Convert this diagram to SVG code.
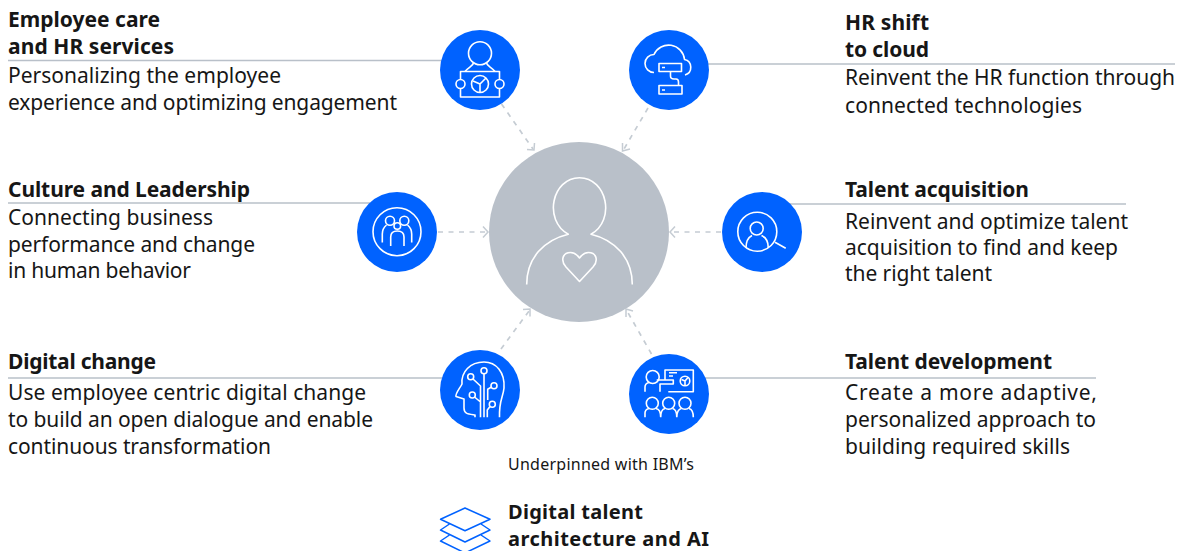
<svg xmlns="http://www.w3.org/2000/svg" width="1178" height="551" viewBox="0 0 1178 551">
<style>
text{font-family:"Noto Sans","Open Sans","Liberation Sans",sans-serif;fill:#161616;font-size:21px}
.b{font-weight:700}
.s{font-size:16px}
text.f{font-size:20px}
.rule{stroke:#b9c0c9;stroke-width:1.6;fill:none}
.dash{stroke:#c5ccd3;stroke-width:1.7;fill:none;stroke-dasharray:5 5.500}
.head{stroke:#c5ccd3;stroke-width:1.5;fill:none}
.disc{fill:#0062ff}
.ic{stroke:#fff;stroke-width:1.6;fill:none;stroke-linejoin:round}
</style>
<g id="connectors">
<line class="rule" x1="8" y1="60.500" x2="445" y2="60.500"/>
<line class="rule" x1="705" y1="64" x2="1175" y2="64"/>
<line class="rule" x1="8" y1="203" x2="370" y2="203"/>
<line class="rule" x1="790" y1="204" x2="1126" y2="204"/>
<line class="rule" x1="8" y1="378" x2="445" y2="378"/>
<line class="rule" x1="705" y1="378" x2="1096" y2="378"/>
<path class="dash" d="M501.500 104L533 149"/><path class="head" d="M534.500 143L534 150L527 149.500"/>
<path class="dash" d="M648 108L624 149"/><path class="head" d="M622.500 143L622.500 151L630 149"/>
<path class="dash" d="M438 232H486"/><path class="head" d="M483 226.500L488 232L483 237.500"/>
<path class="dash" d="M721 232H672"/><path class="head" d="M675 226.500L670 232L675 237.500"/>
<path class="dash" d="M501 349L529 311"/><path class="head" d="M523 309.500L530 309L530 316.500"/>
<path class="dash" d="M651.500 354L627 311"/><path class="head" d="M626 317L626 309L633 311"/>
</g>
<g id="center">
<circle cx="579" cy="232" r="90" fill="#b9c0c9"/>
<path class="ic" d="M526.700 284.500C526.700 258 544 240 568.300 234.200C543 220 552 178 579.500 177.700C607 178 616 220 591 234.200C615 240 632.300 258 632.300 284.500"/>
<path class="ic" d="M579.500 281.500L566 267C560 260 563 252.500 570.500 252.500C574 252.500 577 254.500 579.500 258C582 254.500 585 252.500 588.500 252.500C596 252.500 599 260 593 267Z"/>
</g>
<g id="employee-care">
<circle class="disc" cx="480" cy="70" r="40"/>
<g class="ic"><circle cx="480" cy="53.300" r="11.500"/><path d="M465 71.500C469 67 473 66 473.500 63M495 71.500C491 67 487 66 486.500 63"/><rect x="460.500" y="71.500" width="39" height="25.500"/><circle cx="460.500" cy="84" r="4.500" fill="#0062ff"/><circle cx="499.500" cy="84" r="4.500" fill="#0062ff"/><circle cx="480" cy="84" r="8.500"/><path d="M480 84L473 81M480 84L486 78M480 84V92"/></g>
<text class="b" x="8" y="27" textLength="152">Employee care</text>
<text class="b" x="8" y="54" textLength="166">and HR services</text>
<text x="8" y="83" textLength="273">Personalizing the employee</text>
<text x="8" y="110" textLength="389">experience and optimizing engagement</text>
</g>
<g id="hr-cloud">
<circle class="disc" cx="669" cy="70" r="40"/>
<g class="ic"><path d="M654 72.500A9 9 0 0 1 654 54.500A16 16 0 0 1 684.500 59.500A8 8 0 0 1 685 75"/><rect x="659" y="63.500" width="22.500" height="8"/><rect x="659" y="85.500" width="23" height="8.500"/><path d="M662 67.500H665M662 90H665M670.500 72V76C670.500 78 672 79 674 79H676C678 79 678.500 80 678.500 82V85.500"/></g>
<text class="b" x="845" y="30" textLength="84">HR shift</text>
<text class="b" x="845" y="57" textLength="84">to cloud</text>
<text x="845" y="85" textLength="330">Reinvent the HR function through</text>
<text x="845" y="113" textLength="237">connected technologies</text>
</g>
<g id="culture">
<circle class="disc" cx="397" cy="232" r="40"/>
<g class="ic"><circle cx="397" cy="231.700" r="24"/><circle cx="390" cy="220.700" r="4.500"/><circle cx="404.300" cy="220.700" r="4.500"/><circle cx="397.300" cy="226" r="3.300"/><path d="M382.300 242.500V234C382.300 229 384 227 386.500 225M411.700 242.500V234C411.700 229 410 227 407.500 225M390.700 246V237C390.700 233 393 231 397.300 231C401.500 231 404 233 404 237V246"/></g>
<text class="b" x="8" y="197" textLength="242">Culture and Leadership</text>
<text x="8" y="225" textLength="205">Connecting business</text>
<text x="8" y="252" textLength="247">performance and change</text>
<text x="8" y="278" textLength="183">in human behavior</text>
</g>
<g id="talent-acquisition">
<circle class="disc" cx="762" cy="232" r="40"/>
<g class="ic"><circle cx="757.300" cy="231.700" r="19.500"/><circle cx="756.700" cy="228.500" r="6.500"/><path d="M746 248C746 241 749 237 752 235.500M768.300 248C768.300 241 765 237 761.500 235.500M775 242.300L785.700 248.300"/></g>
<text class="b" x="845" y="197" textLength="184">Talent acquisition</text>
<text x="845" y="229" textLength="283">Reinvent and optimize talent</text>
<text x="845" y="255" textLength="273">acquisition to find and keep</text>
<text x="845" y="281" textLength="147">the right talent</text>
</g>
<g id="digital-change">
<circle class="disc" cx="480" cy="390" r="40"/>
<g class="ic"><path d="M475 417.300V415C468 414 464 414 464 408V399L456 396.500C455 394 460 388 462 384C461 372 470 362 484 362C496 362 505 372 504 388C503 398 499 400 499.500 417.300"/><circle cx="470.700" cy="376.700" r="3"/><circle cx="484" cy="370.700" r="3"/><circle cx="494" cy="385.700" r="3"/><circle cx="472.300" cy="395" r="3"/><circle cx="492.300" cy="404.300" r="3"/><path d="M484 373.700V417.300M473 379L480.500 386V417.300M474.500 397L480.500 402M491.500 387L487.700 389.300V400M490 406.500L487.300 410V417.300"/></g>
<text class="b" x="8" y="369" textLength="148">Digital change</text>
<text x="8" y="400" textLength="358">Use employee centric digital change</text>
<text x="8" y="427" textLength="365">to build an open dialogue and enable</text>
<text x="8" y="454" textLength="263">continuous transformation</text>
</g>
<g id="talent-development">
<circle class="disc" cx="669" cy="394" r="40"/>
<g class="ic"><circle cx="652.700" cy="377" r="6.500"/><path d="M645 391.700V387C645 384 647 383 649 382.500M656.700 380H673.300V384H660V391.700M665 380V370H693.300V391.700H668.300M669 372.700H677M669 376H673"/><circle cx="685" cy="381" r="4.800"/><path d="M685 381L681.500 379.500M685 381L688 377.500M685 381V385.500"/><circle cx="652.300" cy="403.300" r="6"/><circle cx="668.700" cy="403.300" r="6"/><circle cx="685" cy="403.300" r="6"/><path d="M645 417.300V413C645 410 647 409 649 408.500M656 408.500C659 409 660.700 412 660.700 417.300M665 408.500C662.500 409 660.700 412 660.700 417.300M672.500 408.500C675 409 676.800 412 676.800 417.300M681.500 408.500C679 409 676.800 412 676.800 417.300M689 408.500C691 409 693.300 410 693.300 417.300"/></g>
<text class="b" x="845" y="369" textLength="207">Talent development</text>
<text x="845" y="400" textLength="252">Create a more adaptive,</text>
<text x="845" y="427" textLength="251">personalized approach to</text>
<text x="845" y="454" textLength="225">building required skills</text>
</g>
<g id="foundation">
<text class="s" x="508" y="470" textLength="186">Underpinned with IBM’s</text>
<g fill="none" stroke="#0062ff" stroke-width="1.500" stroke-linejoin="round"><path d="M465 508L490 519.200L465 530.700L440.500 519.200Z"/><path d="M449.500 524L440.500 530L465 542L490 530L481 524"/><path d="M449.500 535L440.500 541L465 553L490 541L481 535"/></g>
<text class="b f" x="508" y="519" textLength="135">Digital talent</text>
<text class="b f" x="508" y="546" textLength="201">architecture and AI</text>
</g>
</svg>
